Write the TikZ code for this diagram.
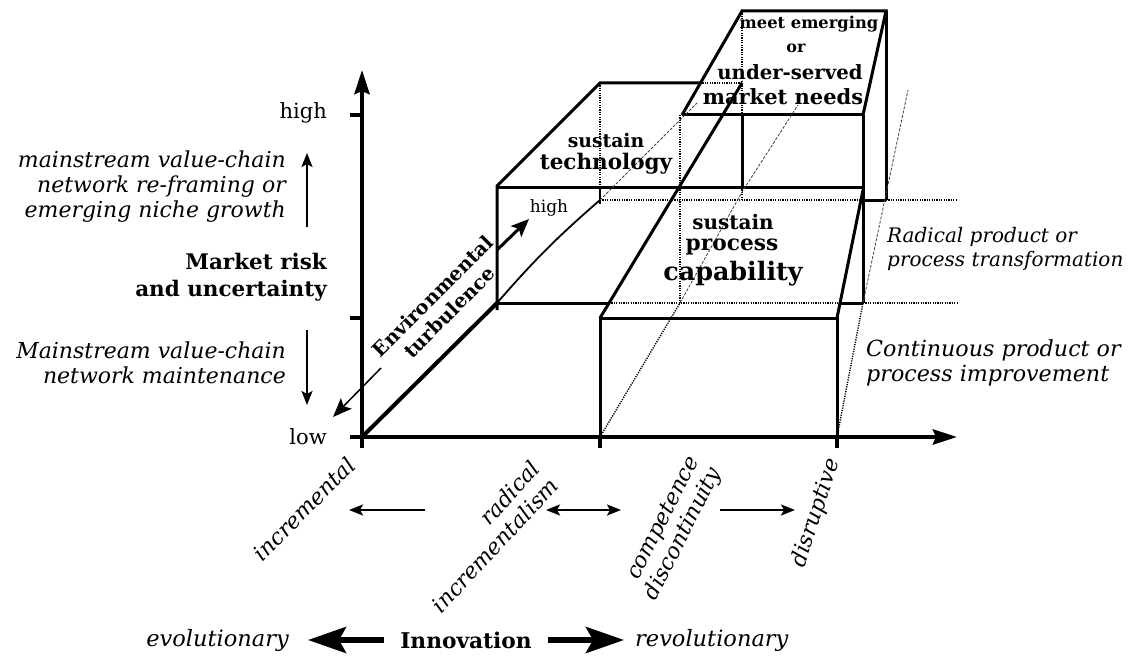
\documentclass[tikz,border=0pt]{standalone}
\usepackage{fontspec}
\setmainfont{DejaVu Serif}
\usetikzlibrary{arrows.meta}
\newcommand{\setfs}[2]{\fontsize{#1}{#2}\selectfont}

\begin{document}
\begin{tikzpicture}[x=1pt,y=-1pt,
  axisline/.style={line width=4.5pt},
  edge/.style={line width=3pt, line join=miter},
  hidden/.style={line width=1.4pt, dash pattern=on 1.2pt off 1.2pt},
  faint/.style={line width=0.8pt, black!75, dash pattern=on 3pt off 1.5pt},
  tickmark/.style={line width=4pt},
  smallarrow/.style={line width=2.3pt, -{Stealth[length=14pt,width=11pt,inset=3pt]}},
  smallboth/.style={line width=2.3pt, {Stealth[length=14pt,width=11pt,inset=3pt]}-{Stealth[length=14pt,width=11pt,inset=3pt]}},
  bigarrow/.style={line width=5.5pt, -{Stealth[length=38pt,width=26pt,inset=7pt]}},
  desc/.style={font=\setfs{22}{25}\itshape, inner sep=0pt},
  boldlab/.style={font=\setfs{21.5}{27}\bfseries, inner sep=0pt},
  plainlab/.style={font=\setfs{21}{24}, inner sep=0pt},
]
\useasboundingbox (0,0) rectangle (1130,658);

% ---- key points ----
\coordinate (O) at (362,437);
\coordinate (ytop) at (362,70);
\coordinate (xend) at (957,437);
\coordinate (d1) at (497,303);
\coordinate (d2) at (600,200);
\coordinate (d3) at (697,103);

% ---- back block: sustain technology ----
\draw[edge] (497,310) -- (497,186) -- (600,83) -- (700,83);
\draw[hidden] (700,83) -- (742,83);
\draw[edge] (497,187) -- (863,187);
\draw[edge] (d1) -- (609,303);
\draw[hidden] (609,303) -- (840,303);
\draw[edge] (840,303) -- (863,303);
\draw[hidden] (863,303) -- (958,303);
\draw[hidden] (600,83) -- (600,187);
\draw[line width=1.5pt] (600,187) -- (600,204);
\draw[hidden] (600,200) -- (863,200);
\draw[edge] (863,200) -- (886,200);
\draw[hidden] (886,200) -- (958,200);

% ---- front block: sustain process capability ----
\draw[edge] (600,437) -- (600,318) -- (837,318) -- (837,437);
\draw[edge] (600,318) -- (742,83);
\draw[edge] (837,318) -- (863,190);
\draw[hidden] (680,115) -- (680,303);

% ---- top block: market needs ----
\draw[edge] (682,115) -- (863,115);
\draw[edge] (682,115) -- (742,11) -- (886,11) -- (863,115);
\draw[edge] (886,11) -- (886,200);
\draw[edge] (863,115) -- (863,303);
\draw[edge] (742,115) -- (742,187);
\draw[hidden] (742,11) -- (742,115);
\draw[hidden] (742,187) -- (742,200);

% ---- receding guide lines ----
\draw[hidden] (600,437) -- (680,303);
\draw[faint] (680,303) -- (742,192) -- (798,105);
\draw[hidden] (837,437) -- (863,303);
\draw[faint] (863,303) -- (908,90);

% ---- depth axis ----
\draw[line width=4pt] (O) -- (d1);
\draw[line width=1.8pt] (d1) to[bend left=4] (d2);
\draw[faint] (d2) -- (d3);

% ---- main axes ----
\draw[axisline, -{Stealth[length=24pt,width=15pt,inset=3pt]}] (O) -- (ytop);
\draw[axisline, -{Stealth[length=24pt,width=15pt,inset=3pt]}] (O) -- (xend);
\foreach \yy in {115,318,437} \draw[tickmark] (350,\yy) -- (362,\yy);
\foreach \xx in {362,600,837} \draw[tickmark] (\xx,437) -- (\xx,448);

% ---- vertical axis labels ----
\node[plainlab, anchor=east] (yhigh) at (327,113) {high};
\node[plainlab, anchor=east] (ylow) at (327,437) {low};
\node[desc, anchor=east, align=right] (upper) at (286,187)
  {mainstream value-chain\\network re-framing or\\emerging niche growth};
\node[boldlab, anchor=east, align=right] (mrisk) at (327,277)
  {Market risk\\and uncertainty};
\node[desc, anchor=east, align=right] (lower) at (286,363)
  {Mainstream value-chain\\network maintenance};
\coordinate (upA) at (307,227);
\coordinate (upB) at (307,153);
\coordinate (dnA) at (307,330);
\coordinate (dnB) at (307,405);
\draw[smallarrow] (upA) -- (upB);
\draw[smallarrow] (dnA) -- (dnB);

% ---- environmental turbulence ----
\node[font=\setfs{19.5}{23}\bfseries, align=center, rotate=45, inner sep=0pt] (env) at (441,304)
  {Environmental\\turbulence};
\coordinate (eA) at (497,250);
\coordinate (eB) at (529,219);
\coordinate (eC) at (381,368);
\coordinate (eD) at (333,417);
\draw[line width=3pt, -{Stealth[length=18pt,width=15pt,inset=4pt]}] (eA) -- (eB);
\draw[line width=1.5pt, -{Stealth[length=19pt,width=15pt,inset=4pt]}] (eC) -- (eD);
\node[font=\setfs{17}{20}, inner sep=0pt] (ehigh) at (549,208) {high};

% ---- block labels ----
\node[font=\setfs{18.8}{22}\bfseries, inner sep=0pt] (st1) at (606,140) {sustain};
\node[font=\setfs{21.5}{24}\bfseries, inner sep=0pt] (st2) at (606,164) {technology};
\node[font=\setfs{16.3}{18}\bfseries, inner sep=0pt] (mn1) at (809,24) {meet emerging};
\node[font=\setfs{16}{18}\bfseries, inner sep=0pt] (mn2) at (796,48) {or};
\node[font=\setfs{19.7}{22}\bfseries, inner sep=0pt] (mn3) at (790,72) {under-served};
\node[font=\setfs{21}{24}\bfseries, inner sep=0pt] (mn4) at (783,97) {market needs};
\node[font=\setfs{20}{22}\bfseries, inner sep=0pt] (sp1) at (733,222) {sustain};
\node[font=\setfs{21.7}{24}\bfseries, inner sep=0pt] (sp2) at (732,247) {process};
\node[font=\setfs{25.4}{28}\bfseries, inner sep=0pt] (sp3) at (733,274) {capability};

% ---- right labels ----
\node[font=\setfs{20}{23.5}\itshape, inner sep=0pt, anchor=west, align=left] (rad) at (887,249)
  {Radical product or\\process transformation};
\node[font=\setfs{22.2}{25}\itshape, inner sep=0pt, anchor=west, align=left] (cont) at (866,363)
  {Continuous product or\\process improvement};

% ---- innovation type labels ----
\node[desc, rotate=45] (inc) at (304,509) {incremental};
\node[desc, rotate=47, anchor=east, align=right] (radinc) at (545,473)
  {radical\\incrementalism};
\node[desc, rotate=63, anchor=east, align=right] (compd) at (706,464)
  {competence\\discontinuity};
\node[desc, rotate=72] (disr) at (816,513) {disruptive};
\coordinate (a1) at (425,510);
\coordinate (a2) at (349,510);
\coordinate (a3) at (546,510);
\coordinate (a4) at (621,510);
\coordinate (a5) at (720,510);
\coordinate (a6) at (795,510);
\draw[smallarrow] (a1) -- (a2);
\draw[smallboth] (a3) -- (a4);
\draw[smallarrow] (a5) -- (a6);

% ---- innovation axis caption ----
\node[desc, font=\setfs{22.5}{25}\itshape, anchor=east] (evo) at (289,640) {evolutionary};
\node[boldlab, font=\setfs{21.7}{24}\bfseries] (innov) at (466,640) {Innovation};
\node[desc, font=\setfs{22.5}{25}\itshape, anchor=west] (revo) at (635,640) {revolutionary};
\coordinate (bl) at (384,640);
\coordinate (bl2) at (308,640);
\coordinate (br) at (548,640);
\coordinate (br2) at (624,640);
\draw[bigarrow] (bl) -- (bl2);
\draw[bigarrow] (br) -- (br2);
\end{tikzpicture}
\end{document}
